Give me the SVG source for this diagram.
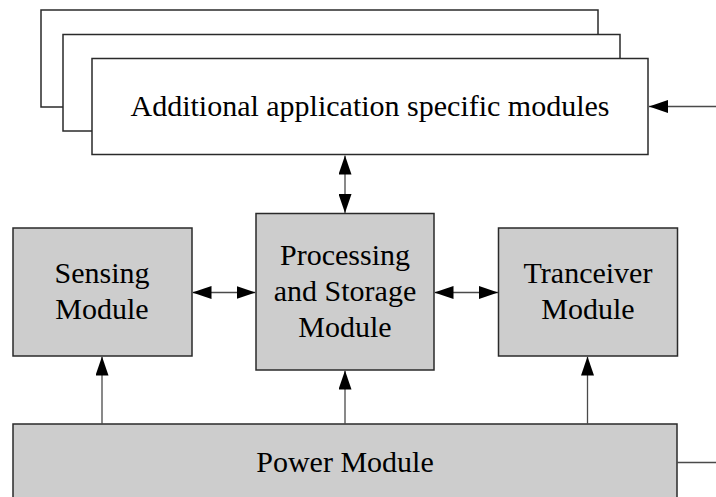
<svg xmlns="http://www.w3.org/2000/svg" width="716" height="497" viewBox="0 0 716 497">
  <style>
    .box { fill: #cdcdcd; stroke: #2a2a2a; stroke-width: 1.5; }
    .wbox { fill: #ffffff; stroke: #2a2a2a; stroke-width: 1.5; }
    .lbl { font-family: "Liberation Serif", "Times New Roman", serif; font-size: 30px; fill: #000; text-anchor: middle; }
    .conn { stroke: #4a4a4a; stroke-width: 1.3; fill: none; }
  </style>
  <defs>
    <marker id="ah" markerUnits="userSpaceOnUse" markerWidth="19" markerHeight="13" refX="19" refY="6.5" orient="auto-start-reverse">
      <path d="M0,0 L19,6.5 L0,13 Z" fill="#000"/>
    </marker>
  </defs>

  <g id="app-modules">
    <rect class="wbox" x="41" y="10" width="557" height="97"/>
    <rect class="wbox" x="63" y="34.5" width="557" height="96.5"/>
    <rect class="wbox" x="92" y="58.5" width="556" height="96"/>
    <text class="lbl" x="370" y="116">Additional application specific modules</text>
  </g>

  <g id="sensing">
    <rect class="box" x="13" y="228" width="179" height="128"/>
    <text class="lbl" x="102" y="283">Sensing</text>
    <text class="lbl" x="102" y="319">Module</text>
  </g>

  <g id="processing">
    <rect class="box" x="256" y="213.5" width="178" height="156.5"/>
    <text class="lbl" x="345" y="265">Processing</text>
    <text class="lbl" x="345" y="301">and Storage</text>
    <text class="lbl" x="345" y="337">Module</text>
  </g>

  <g id="tranceiver">
    <rect class="box" x="498.5" y="228" width="179" height="128"/>
    <text class="lbl" x="588" y="283">Tranceiver</text>
    <text class="lbl" x="588" y="319">Module</text>
  </g>

  <g id="power">
    <rect class="box" x="13" y="424" width="664" height="90"/>
    <text class="lbl" x="345" y="472">Power Module</text>
  </g>

  <g id="connectors">
    <line class="conn" x1="716" y1="106.5" x2="649" y2="106.5" marker-end="url(#ah)"/>
    <line class="conn" x1="345" y1="155.5" x2="345" y2="213" marker-start="url(#ah)" marker-end="url(#ah)"/>
    <line class="conn" x1="192.5" y1="292.5" x2="255.5" y2="292.5" marker-start="url(#ah)" marker-end="url(#ah)"/>
    <line class="conn" x1="434.5" y1="292.5" x2="498" y2="292.5" marker-start="url(#ah)" marker-end="url(#ah)"/>
    <line class="conn" x1="102" y1="424" x2="102" y2="356.5" marker-end="url(#ah)"/>
    <line class="conn" x1="345" y1="424" x2="345" y2="370.5" marker-end="url(#ah)"/>
    <line class="conn" x1="587.5" y1="424" x2="587.5" y2="356.5" marker-end="url(#ah)"/>
    <line class="conn" x1="677" y1="462.5" x2="716" y2="462.5"/>
  </g>
</svg>
